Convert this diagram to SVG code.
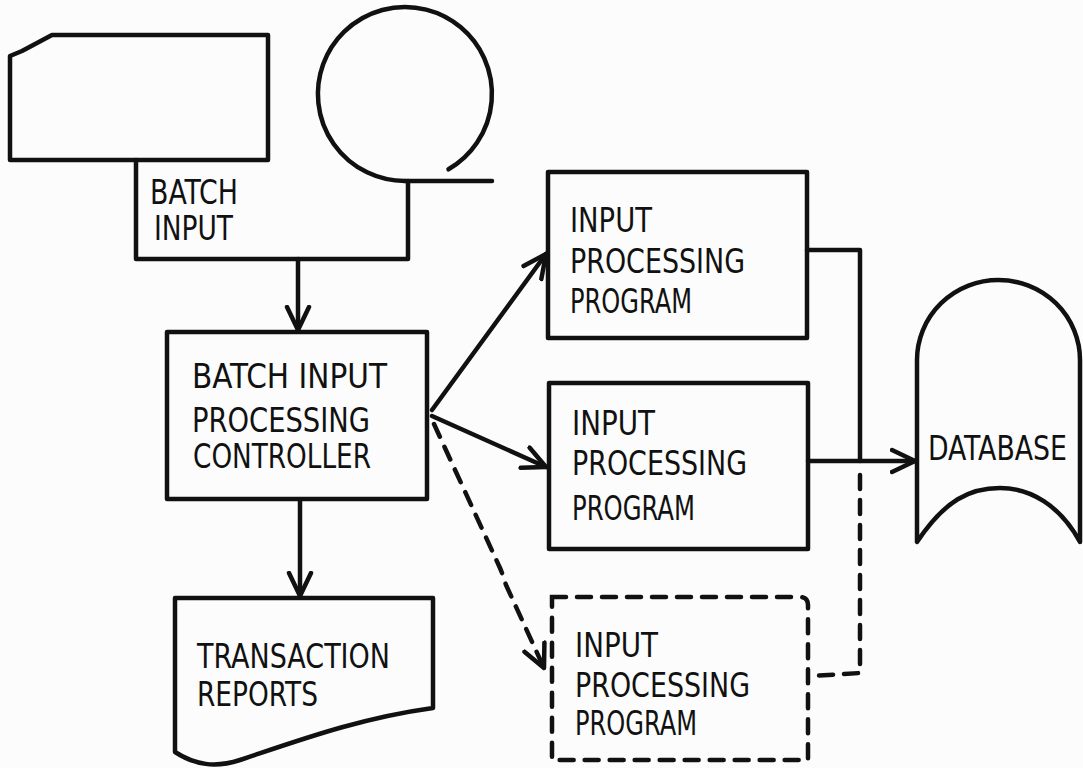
<svg xmlns="http://www.w3.org/2000/svg" width="1083" height="768" viewBox="0 0 1083 768">
<style>
.s{fill:none;stroke:#111;stroke-width:4.5;stroke-linejoin:round;stroke-linecap:round}
.d{fill:none;stroke:#111;stroke-width:4.5;stroke-dasharray:14 11;stroke-linecap:round}
.t{font-family:"DejaVu Sans Condensed","DejaVu Sans",sans-serif;font-size:33px;fill:#111}
</style>
<defs>
<marker id="ah" viewBox="0 0 28 28" markerWidth="28" markerHeight="28" refX="25" refY="14" orient="auto" markerUnits="userSpaceOnUse">
<path d="M2,3 L25,14 L2,25" fill="none" stroke="#111" stroke-width="4.5" stroke-linecap="round" stroke-linejoin="round"/>
</marker>
</defs>
<rect width="1083" height="768" fill="#fcfcfc"/>
<g id="batch-input">
<path class="s" d="M10,56 L22,51 L52,35 L268,35 L268,160 L10,160 Z"/>
<path class="s" d="M405,181 A87,87 0 1 1 448.5,169.3"/>
<path class="s" d="M405,181 L492,181"/>
<path class="s" d="M136,160 L136,259 L408,259 L408,181"/>
<text class="t" x="150" y="204" textLength="88" lengthAdjust="spacingAndGlyphs">BATCH</text>
<text class="t" x="154" y="240" textLength="79" lengthAdjust="spacingAndGlyphs">INPUT</text>
</g>
<g id="controller">
<rect class="s" x="167" y="332" width="260" height="167"/>
<text class="t" x="192" y="388" textLength="195" lengthAdjust="spacingAndGlyphs">BATCH INPUT</text>
<text class="t" x="192" y="432" textLength="178" lengthAdjust="spacingAndGlyphs">PROCESSING</text>
<text class="t" x="193" y="468" textLength="178" lengthAdjust="spacingAndGlyphs">CONTROLLER</text>
</g>
<g id="ipp1">
<rect class="s" x="548" y="172" width="259" height="166"/>
<text class="t" x="570" y="232" textLength="82" lengthAdjust="spacingAndGlyphs">INPUT</text>
<text class="t" x="570" y="273" textLength="175" lengthAdjust="spacingAndGlyphs">PROCESSING</text>
<text class="t" x="570" y="313" textLength="122" lengthAdjust="spacingAndGlyphs">PROGRAM</text>
</g>
<g id="ipp2">
<rect class="s" x="549" y="383" width="259" height="166"/>
<text class="t" x="572" y="435" textLength="83" lengthAdjust="spacingAndGlyphs">INPUT</text>
<text class="t" x="572" y="475" textLength="175" lengthAdjust="spacingAndGlyphs">PROCESSING</text>
<text class="t" x="572" y="520" textLength="123" lengthAdjust="spacingAndGlyphs">PROGRAM</text>
</g>
<g id="ipp3">
<path class="d" d="M552,597 L800,597 Q808,597 808,605 L808,760 L552,760 Z"/>
<text class="t" x="575" y="657" textLength="83" lengthAdjust="spacingAndGlyphs">INPUT</text>
<text class="t" x="575" y="697" textLength="175" lengthAdjust="spacingAndGlyphs">PROCESSING</text>
<text class="t" x="575" y="735" textLength="122" lengthAdjust="spacingAndGlyphs">PROGRAM</text>
</g>
<g id="reports">
<path class="s" d="M175,598 L433,598 L433,708 C360,718 300,740 240,760 C215,768 195,765 175,752 Z"/>
<text class="t" x="197" y="668" textLength="193" lengthAdjust="spacingAndGlyphs">TRANSACTION</text>
<text class="t" x="197" y="706" textLength="121" lengthAdjust="spacingAndGlyphs">REPORTS</text>
</g>
<g id="database">
<path class="s" d="M917,542 L917,360 A81.5,80 0 0 1 1080,360 L1080,542 C1060,505 1030,488 1000,488 C970,488 945,500 917,542 Z"/>
<text class="t" x="928" y="460" textLength="139" lengthAdjust="spacingAndGlyphs">DATABASE</text>
</g>
<g id="connectors">
<path class="s" d="M298,259 L298,330" marker-end="url(#ah)"/>
<path class="s" d="M432,410 L546,254" marker-end="url(#ah)"/>
<path class="s" d="M432,416 L546,467" marker-end="url(#ah)"/>
<path class="d" d="M434,424 L500,568 Q503,575 506,585 L544,668" marker-end="url(#ah)"/>
<path class="s" d="M807,250 L860,250 L860,461"/>
<path class="s" d="M808,461 L915,461" marker-end="url(#ah)"/>
<path class="d" d="M860,475 L860,673 L812,676"/>
<path class="s" d="M300,500 L300,596" marker-end="url(#ah)"/>
</g>
</svg>
